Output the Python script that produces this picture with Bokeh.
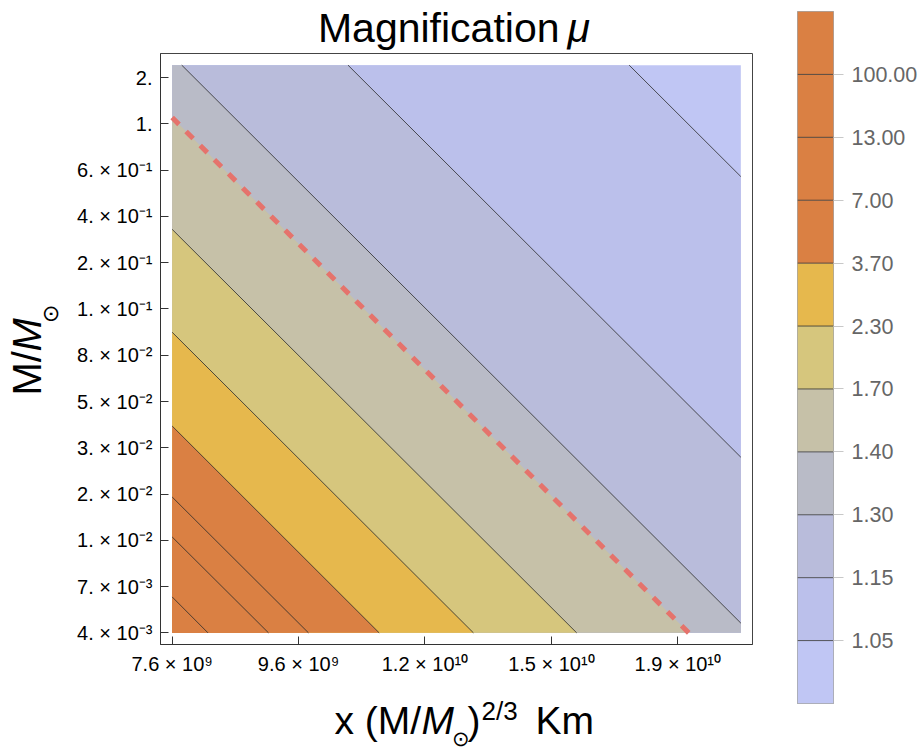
import numpy as np
from bokeh.plotting import figure
from bokeh.models import Range1d, FixedTicker, Label
from bokeh.layouts import row, column
from bokeh.embed import file_html
from bokeh.resources import INLINE

# ---------------- data ----------------
# contour levels (as in the legend, descending)
levels = [100.0, 13.0, 7.0, 3.7, 2.3, 1.7, 1.4, 1.3, 1.15, 1.05]
# x value where each contour line meets the lower edge (M = 4e-3)
x_at_bottom = [8.11e9, 9.05e9, 9.73e9, 1.106e10, 1.312e10, 1.582e10,
               1.938e10, 2.168e10, 2.93e10, 4.88e10]
# M value where each contour line meets the left edge (x = 7.6e9)
m_at_left = [5.98e-3, 1.17e-2, 1.83e-2, 4.05e-2, 0.1157, 0.366,
             1.279, 2.56, 16.4, 378.0]
# band colours, from lowest band (< 1.05) to highest band (> 100)
band_colors = ["#C0C6F4", "#BBC0EB", "#B9BCDB", "#B9BBC7", "#C6C1A8",
               "#D6C67D", "#E6B84D", "#DA8043", "#DA8043", "#DA8043", "#DA8043"]
dashed_level = 1.4

# plotted domain
x_min, x_max = 7.6e9, 2.13e10
m_min, m_max = 4.0e-3, 2.3

# tick labels
x_tick_labels = ["7.6 \u00d7 10\u2079", "9.6 \u00d7 10\u2079",
                 "1.2 \u00d7 10\u00b9\u2070", "1.5 \u00d7 10\u00b9\u2070",
                 "1.9 \u00d7 10\u00b9\u2070"]
x_tick_first, x_tick_last = 7.6e9, 1.9e10
y_tick_labels = ["4. \u00d7 10\u207b\u00b3", "7. \u00d7 10\u207b\u00b3",
                 "1. \u00d7 10\u207b\u00b2", "2. \u00d7 10\u207b\u00b2",
                 "3. \u00d7 10\u207b\u00b2", "5. \u00d7 10\u207b\u00b2",
                 "8. \u00d7 10\u207b\u00b2", "1. \u00d7 10\u207b\u00b9",
                 "2. \u00d7 10\u207b\u00b9", "4. \u00d7 10\u207b\u00b9",
                 "6. \u00d7 10\u207b\u00b9", "1.", "2."]
y_tick_first, y_tick_last = 4.0e-3, 2.0

FONT = "Liberation Sans"

# ---------------- geometry helpers (log space) ----------------
X0, X1 = np.log10(x_min), np.log10(x_max)
Y0, Y1 = np.log10(m_min), np.log10(m_max)
rect = [(X0, Y0), (X1, Y0), (X1, Y1), (X0, Y1)]


def contour_fn(i):
    xb = np.log10(x_at_bottom[i])
    yl = np.log10(m_at_left[i])
    return lambda X, Y: (X - X0) / (xb - X0) + (Y - Y0) / (yl - Y0) - 1.0


def clip(poly, f):
    out, cross = [], []
    n = len(poly)
    for k in range(n):
        P, Q = poly[k], poly[(k + 1) % n]
        fp, fq = f(*P), f(*Q)
        if fp <= 0:
            out.append(P)
        if (fp < 0 < fq) or (fq < 0 < fp):
            t = fp / (fp - fq)
            pt = (P[0] + t * (Q[0] - P[0]), P[1] + t * (Q[1] - P[1]))
            out.append(pt)
            cross.append(pt)
    return out, cross


# ---------------- main plot ----------------
pad = 0.0205
dx, dy = X1 - X0, Y1 - Y0
p = figure(width=726, height=631, x_axis_type="log", y_axis_type="log",
           x_range=Range1d(10 ** (X0 - pad * dx), 10 ** (X1 + pad * dx)),
           y_range=Range1d(10 ** (Y0 - pad * dy), 10 ** (Y1 + pad * dy)),
           output_backend="svg", toolbar_location=None,
           min_border_left=98, min_border_right=36,
           min_border_top=0, min_border_bottom=40)
p.grid.visible = False
p.outline_line_color = "#444444"
p.outline_line_width = 1
p.background_fill_color = "white"

# filled bands: base, then nested regions of increasing magnification
n_lv = len(levels)
xs = [[10 ** v[0] for v in rect]]
ys = [[10 ** v[1] for v in rect]]
cols = [band_colors[0]]
for j in range(n_lv):              # ascending level order
    i = n_lv - 1 - j
    poly, _ = clip(rect, contour_fn(i))
    if len(poly) >= 3:
        xs.append([10 ** v[0] for v in poly])
        ys.append([10 ** v[1] for v in poly])
        cols.append(band_colors[j + 1])
p.patches(xs, ys, fill_color=cols, line_color=None)

# contour lines
lx, ly, dlx, dly = [], [], [], []
for i in range(n_lv):
    _, cross = clip(rect, contour_fn(i))
    if len(cross) == 2:
        seg_x = [10 ** c[0] for c in cross]
        seg_y = [10 ** c[1] for c in cross]
        if levels[i] == dashed_level:
            dlx.append(seg_x)
            dly.append(seg_y)
        else:
            lx.append(seg_x)
            ly.append(seg_y)
p.multi_line(lx, ly, line_color="#2a2a2a", line_alpha=0.8, line_width=1)
p.multi_line(dlx, dly, line_color="#E5736C", line_width=5, line_dash="10 10")

# axes
xt = [float(x_tick_first * (x_tick_last / x_tick_first) ** (k / (len(x_tick_labels) - 1)))
      for k in range(len(x_tick_labels))]
yt = [float(y_tick_first * (y_tick_last / y_tick_first) ** (k / (len(y_tick_labels) - 1)))
      for k in range(len(y_tick_labels))]
p.xaxis.ticker = FixedTicker(ticks=xt, minor_ticks=[])
p.yaxis.ticker = FixedTicker(ticks=yt, minor_ticks=[])
p.xaxis.major_label_overrides = {t: s for t, s in zip(xt, x_tick_labels)}
p.yaxis.major_label_overrides = {t: s for t, s in zip(yt, y_tick_labels)}
for ax in (p.xaxis, p.yaxis):
    ax.major_tick_in = 8
    ax.major_tick_out = 0
    ax.minor_tick_line_color = None
    ax.major_tick_line_color = "#333333"
    ax.axis_line_color = "#333333"
    ax.major_label_text_font = FONT
    ax.major_label_text_font_size = "20px"
    ax.major_label_text_color = "black"
    ax.major_label_standoff = 8


# ---------------- text panels (title, axis labels) ----------------
def text_fig(w, h):
    f = figure(width=w, height=h, x_range=Range1d(0, 1), y_range=Range1d(0, 1),
               x_axis_location=None, y_axis_location=None,
               output_backend="svg", toolbar_location=None,
               min_border_left=0, min_border_right=0, min_border_top=0, min_border_bottom=0)
    f.grid.visible = False
    f.outline_line_color = None
    return f


def lab(f, text, x, y, size, style="normal", angle=0.0, align="left"):
    f.add_layout(Label(x=x, y=y, x_units="screen", y_units="screen", text=text,
                       text_font=FONT, text_font_size=size, text_font_style=style,
                       text_color="black", angle=angle, text_align=align,
                       text_baseline="alphabetic"))


# title panel: page y 0..53
tf = text_fig(788, 53)
lab(tf, "Magnification", 559, 26, "41px", align="right")
lab(tf, "\u03bc", 567, 26, "41px", style="italic")

# y-label panel: page x 0..62, y 53..684
yf = text_fig(62, 631)
lab(yf, "M/", 26, 249, "40px", angle=np.pi / 2)
lab(yf, "M", 26, 293, "40px", style="italic", angle=np.pi / 2)
lab(yf, "\u2299", 50, 322, "22px", angle=np.pi / 2)

# x-label panel: page y 684..751
xf = text_fig(788, 67)
lab(xf, "x (M/", 334, 31, "39px")
lab(xf, "M", 421, 31, "39px", style="italic")
lab(xf, "\u2299", 451, 13, "21px")
lab(xf, ")", 467, 31, "39px")
lab(xf, "2/3", 481, 41, "26px")
lab(xf, "Km", 535, 31, "39px")

# ---------------- colour bar ----------------
levels_asc = levels[::-1]
n_b = len(band_colors)
cb = figure(width=135, height=751, x_range=Range1d(0, 1), y_range=Range1d(0, n_b),
            y_axis_location="right", output_backend="svg", toolbar_location=None,
            min_border_left=9, min_border_right=90, min_border_top=11, min_border_bottom=48)
cb.grid.visible = False
cb.xaxis.visible = False
cb.quad(left=0, right=1, bottom=list(range(n_b)), top=list(range(1, n_b + 1)),
        fill_color=band_colors, line_color=None)
cb.segment(x0=0, x1=1, y0=list(range(1, n_b)), y1=list(range(1, n_b)),
           line_color="#333333", line_alpha=0.8, line_width=1)
cb.outline_line_color = "black"
cb.outline_line_alpha = 0.35
cb.yaxis.ticker = FixedTicker(ticks=list(range(1, n_b)), minor_ticks=[])
cb.yaxis.major_label_overrides = {k + 1: f"{v:.2f}" for k, v in enumerate(levels_asc)}
cb.yaxis.major_tick_out = 10
cb.yaxis.major_tick_in = 0
cb.yaxis.major_tick_line_color = "#c8c8c8"
cb.yaxis.minor_tick_line_color = None
cb.yaxis.axis_line_color = None
cb.yaxis.major_label_standoff = 8
cb.yaxis.major_label_text_font = FONT
cb.yaxis.major_label_text_font_size = "21.5px"
cb.yaxis.major_label_text_color = "#666666"

layout = row(column(tf, row(yf, p), xf), cb)
open("out.html", "w").write(file_html(layout, INLINE))
